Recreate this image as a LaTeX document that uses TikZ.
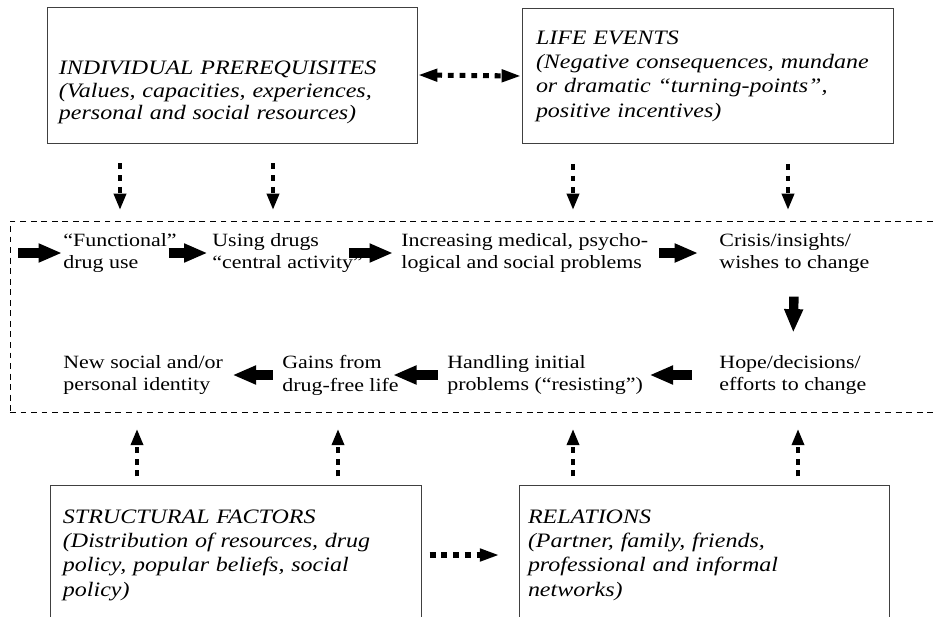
\documentclass[tikz,border=0pt]{standalone}
\usepackage{fontspec}
\setmainfont{Liberation Serif}[FakeStretch=1.17]
\usetikzlibrary{arrows.meta, positioning, calc}

\begin{document}
\begin{tikzpicture}[x=0.03cm, y=-0.03cm,
  factor/.style={draw=black!75, line width=0.8pt, align=left, inner ysep=0pt,
    font=\fontsize{17.5}{20.8}\selectfont\itshape},
  stage/.style={anchor=west, align=left, inner sep=1pt, font=\fontsize{16}{19.5}\selectfont},
  flow/.style={line width=8pt, -{Triangle[length=20pt,width=15pt]}},
  infl/.style={line width=3.6pt, dash pattern=on 5pt off 5pt, -{Triangle[length=14pt,width=10pt]}},
  link/.style={line width=4.3pt, dash pattern=on 5pt off 5pt, -{Triangle[length=17pt,width=10pt]}}
]
  \clip (0,0) rectangle (936,616);

  \node[factor, inner xsep=0.36cm, text width=10.38cm, minimum height=4.08cm,
    font=\fontsize{17.5}{19.2}\selectfont\itshape] (ip) at (232,75) {
    \rule{0pt}{42pt}INDIVIDUAL PREREQUISITES\\
    (Values, capacities, experiences,\\
    personal and social resources)
  };
  \node[factor, inner xsep=0.42cm, text width=10.29cm, minimum height=4.05cm] (le) at (707.5,76) {
    LIFE EVENTS\\
    (Negative consequences, mundane\\
    or dramatic ``turning-points'',\\
    positive incentives)
  };
  \node[factor, inner xsep=0.39cm, text width=10.35cm, minimum height=4.2cm] (sf) at (235.5,555) {
    STRUCTURAL FACTORS\\
    (Distribution of resources, drug\\
    policy, popular beliefs, social\\
    policy)
  };
  \node[factor, inner xsep=0.27cm, text width=10.56cm, minimum height=4.2cm] (re) at (704,555) {
    RELATIONS\\
    (Partner, family, friends,\\
    professional and informal\\
    networks)
  };

  \node[draw, dashed, dash pattern=on 5pt off 4pt, line width=0.6pt, inner sep=0pt,
    minimum width=27.9cm, minimum height=5.73cm] (proc) at (475,316.5) {};

  \node[stage] (f1) at (62,253) {``Functional''\\drug use};
  \node[stage] (f2) at (211,253) {Using drugs\\``central activity''};
  \node[stage] (f3) at (400,253) {Increasing medical, psycho-\\logical and social problems};
  \node[stage] (f4) at (718,253) {Crisis/insights/\\wishes to change};
  \node[stage] (f5) at (718,375) {Hope/decisions/\\efforts to change};
  \node[stage] (f6) at (446,375) {Handling initial\\problems (``resisting'')};
  \node[stage] (f7) at (281,375) {Gains from\\drug-free life};
  \node[stage] (f8) at (62,375) {New social and/or\\personal identity};

  \coordinate (entry) at (18,253);
  \draw[flow] (entry) -- (f1.west);
  \draw[flow, shorten <=-8pt, shorten >=3pt] (f1.east) -- (f2.west);
  \draw[flow, shorten <=-13pt, shorten >=6pt] (f2.east) -- (f3.west);
  \draw[flow, shorten <=8.5pt, shorten >=17pt] (f3.east) -- (f4.west);
  \draw[flow, shorten <=19pt, shorten >=18pt] (f4.south) -- (f5.north);
  \draw[flow, shorten <=22pt, shorten >=4.5pt] (f5.west) -- (f6.east);
  \draw[flow, shorten <=7pt, shorten >=-6pt] (f6.west) -- (f7.east);
  \draw[flow, shorten <=7pt, shorten >=7pt] (f7.west) -- (f8.east);

  \draw[link, arrows={Triangle[length=17pt,width=10pt]-Triangle[length=17pt,width=10pt]}]
    (ip.east) -- (le.west);
  \draw[link, shorten <=7pt, shorten >=16pt] (sf.east) -- (re.west);

  \foreach \x/\b in {120/ip, 273/ip, 573/le, 788/le}
    \draw[infl, shorten <=17pt, shorten >=9pt] (\b.south -| \x,0) -- (proc.north -| \x,0);
  \foreach \x/\b in {137/sf, 338/sf, 573/re, 798/re}
    \draw[infl, shorten <=7pt, shorten >=14pt] (\b.north -| \x,0) -- (proc.south -| \x,0);
\end{tikzpicture}
\end{document}
